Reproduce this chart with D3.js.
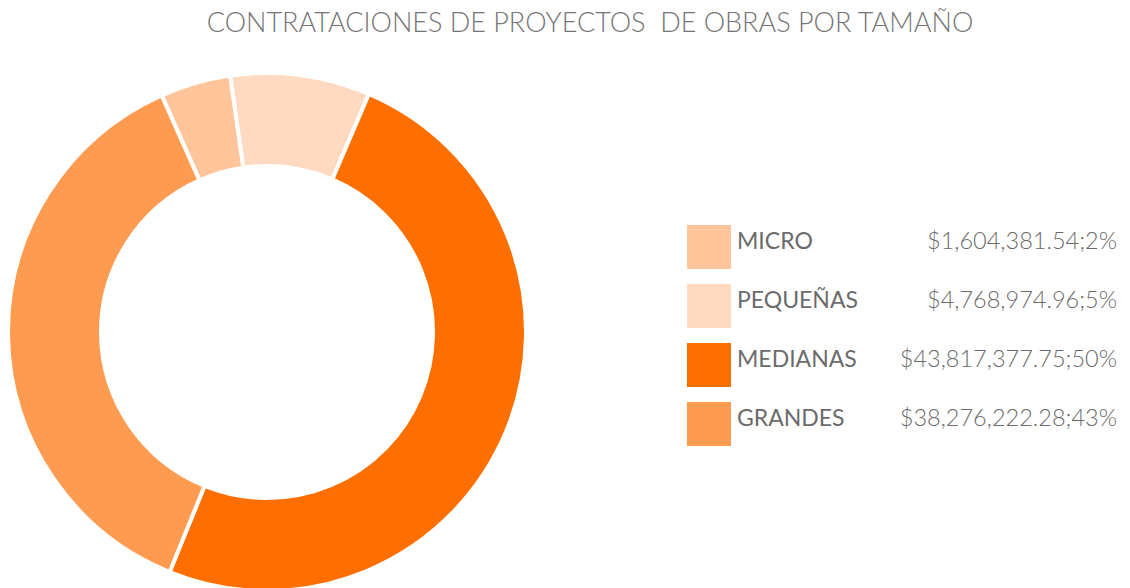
<!DOCTYPE html>
<html>
<head>
<meta charset="utf-8">
<script src="https://cdn.jsdelivr.net/npm/d3@7"></script>
<style>
  body { margin: 0; background: #fff; }
  text { font-family: Lato, "Open Sans", sans-serif; }
</style>
</head>
<body>
<div class="canvas"></div>
<script>
// data
const categories = ['MICRO', 'PEQUEÑAS', 'MEDIANAS', 'GRANDES'];
const amounts = ['$1,604,381.54', '$4,768,974.96', '$43,817,377.75', '$38,276,222.28'];
const pctLabels = ['2%', '5%', '50%', '43%'];
// slice shares as drawn in the picture (%)
const sliceShares = [4.4, 8.7, 49.7, 37.2];
const colors = ['#FFC499', '#FFDAC0', '#FF6F00', '#FF9B50'];

const width = 1130, height = 588;

const svg = d3.select('.canvas')
    .append('svg')
    .attr('width', width)
    .attr('height', height);

// title
svg.append('text')
    .attr('x', 590)
    .attr('y', 32)
    .attr('text-anchor', 'middle')
    .attr('font-size', 27)
    .attr('font-weight', 300)
    .attr('fill', '#757575')
    .attr('xml:space', 'preserve')
    .style('white-space', 'pre')
    .text('CONTRATACIONES DE PROYECTOS  DE OBRAS POR TAMAÑO');

// donut
const cx = 267, cy = 332;
const startDeg = -24;

const pie = d3.pie()
    .sort(null)
    .value(d => d.share)
    .startAngle(startDeg * Math.PI / 180)
    .endAngle((startDeg + 360) * Math.PI / 180);

const arc = d3.arc()
    .innerRadius(166)
    .outerRadius(259);

const data = categories.map((c, i) => ({ name: c, share: sliceShares[i], color: colors[i] }));

const graph = svg.append('g')
    .attr('transform', `translate(${cx}, ${cy})`);

graph.selectAll('path')
    .data(pie(data))
    .enter()
    .append('path')
    .attr('d', arc)
    .attr('fill', d => d.data.color)
    .attr('stroke', '#fff')
    .attr('stroke-width', 4);

// legend
const y = d3.scaleBand()
    .domain(categories)
    .range([225, 225 + 59 * 4])
    .paddingInner(0);

const legend = svg.append('g');

const rows = legend.selectAll('g')
    .data(data)
    .enter()
    .append('g')
    .attr('transform', d => `translate(0, ${y(d.name)})`);

rows.append('rect')
    .attr('x', 687)
    .attr('y', 0)
    .attr('width', 44)
    .attr('height', 44)
    .attr('fill', d => d.color);

rows.append('text')
    .attr('x', 737)
    .attr('y', 24)
    .attr('font-size', 23)
    .attr('fill', '#6b6b6b')
    .text(d => d.name);

rows.append('text')
    .attr('x', 1117)
    .attr('y', 24)
    .attr('text-anchor', 'end')
    .attr('font-size', 23.5)
    .attr('font-weight', 300)
    .attr('fill', '#6b6b6b')
    .text((d, i) => amounts[i] + ';' + pctLabels[i]);
</script>
</body>
</html>
